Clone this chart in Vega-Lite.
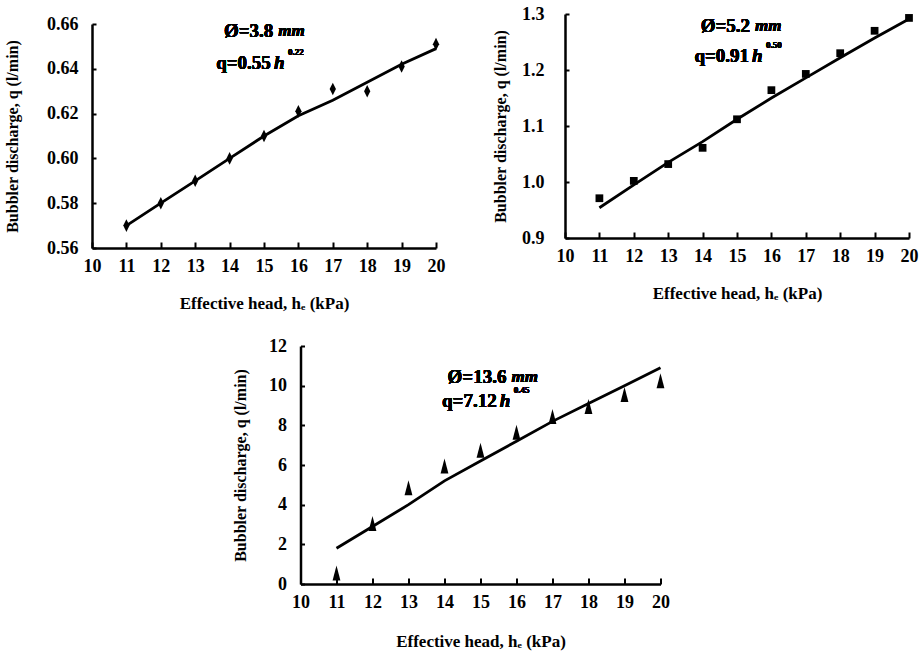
{
  "$schema": "https://vega.github.io/schema/vega-lite/v6.json",
  "background": "white",
  "padding": {"left": 4, "top": 5, "right": 5, "bottom": 2},
  "config": {
    "font": "Liberation Serif",
    "view": {"stroke": null},
    "axis": {
      "grid": false,
      "ticks": true,
      "tickColor": "black",
      "tickWidth": 2,
      "domainColor": "black",
      "domainWidth": 2.5,
      "labelFont": "Liberation Serif",
      "labelFontWeight": "bold",
      "labelFontSize": 18,
      "labelColor": "black",
      "labelOverlap": false,
      "labelFlush": false,
      "titleFont": "Liberation Serif",
      "titleFontWeight": "bold",
      "titleFontSize": 16,
      "titleColor": "black"
    },
    "axisX": {"tickSize": -6, "labelPadding": 15, "titlePadding": 20, "titleFontSize": 17},
    "axisY": {"tickSize": -4, "labelPadding": 18, "titlePadding": 26}
  },
  "datasets": {
    "d38": [
      {"h": 11, "q": 0.570, "fit": 0.570},
      {"h": 12, "q": 0.580, "fit": 0.580},
      {"h": 13, "q": 0.590, "fit": 0.590},
      {"h": 14, "q": 0.600, "fit": 0.600},
      {"h": 15, "q": 0.610, "fit": 0.610},
      {"h": 16, "q": 0.621, "fit": 0.619},
      {"h": 17, "q": 0.631, "fit": 0.626},
      {"h": 18, "q": 0.630, "fit": 0.634},
      {"h": 19, "q": 0.641, "fit": 0.642},
      {"h": 20, "q": 0.651, "fit": 0.649}
    ],
    "d52": [
      {"h": 11, "q": 0.971, "fit": 0.954},
      {"h": 12, "q": 1.002, "fit": 0.995},
      {"h": 13, "q": 1.032, "fit": 1.035},
      {"h": 14, "q": 1.061, "fit": 1.072},
      {"h": 15, "q": 1.112, "fit": 1.112},
      {"h": 16, "q": 1.164, "fit": 1.150},
      {"h": 17, "q": 1.193, "fit": 1.186},
      {"h": 18, "q": 1.230, "fit": 1.222},
      {"h": 19, "q": 1.270, "fit": 1.257},
      {"h": 20, "q": 1.293, "fit": 1.291}
    ],
    "d136": [
      {"h": 11, "q": 0.5, "fit": 1.8},
      {"h": 12, "q": 3.0, "fit": 2.9},
      {"h": 13, "q": 4.8, "fit": 4.0},
      {"h": 14, "q": 5.9, "fit": 5.2},
      {"h": 15, "q": 6.7, "fit": 6.2},
      {"h": 16, "q": 7.6, "fit": 7.2},
      {"h": 17, "q": 8.4, "fit": 8.2},
      {"h": 18, "q": 8.9, "fit": 9.1},
      {"h": 19, "q": 9.5, "fit": 10.0},
      {"h": 20, "q": 10.2, "fit": 10.9}
    ]
  },
  "center": true,
  "spacing": 26,
  "vconcat": [
    {
      "spacing": 47,
      "hconcat": [
        {
          "width": 344,
          "height": 234,
          "data": {"name": "d38"},
          "encoding": {
            "x": {"field": "h", "type": "quantitative", "scale": {"domain": [10, 20], "nice": false}, "axis": {"values": [10, 11, 12, 13, 14, 15, 16, 17, 18, 19, 20], "title": "Effective head, hₑ (kPa)"}}
          },
          "layer": [
            {"mark": {"type": "line", "color": "black", "strokeWidth": 2.8},
             "encoding": {"y": {"field": "fit", "type": "quantitative", "scale": {"domain": [0.56, 0.66], "nice": false, "zero": false, "range": [234, 10]}, "axis": {"values": [0.56, 0.58, 0.6, 0.62, 0.64, 0.66], "format": ".2f", "title": "Bubbler discharge, q (l/min)"}}}},
            {"mark": {"type": "point", "shape": "M0,-1.2L0.6,0L0,1.2L-0.6,0Z", "filled": true, "color": "black", "opacity": 1, "size": 110},
             "encoding": {"y": {"field": "q", "type": "quantitative"}}},
            {"mark": {"type": "text", "text": "Ø=3.8", "fontWeight": "bold", "fontSize": 19, "align": "right", "baseline": "middle", "color": "black"},
             "encoding": {"x": {"datum": 15.27}, "y": {"datum": 0.6567}}},
            {"mark": {"type": "text", "text": "mm", "fontWeight": "bold", "fontStyle": "italic", "fontSize": 17, "align": "left", "baseline": "middle", "dx": 5, "color": "black"},
             "encoding": {"x": {"datum": 15.27}, "y": {"datum": 0.6567}}},
            {"mark": {"type": "text", "text": "q=0.55", "fontWeight": "bold", "fontSize": 19, "align": "right", "baseline": "middle", "color": "black"},
             "encoding": {"x": {"datum": 15.2}, "y": {"datum": 0.6426}}},
            {"mark": {"type": "text", "text": "h", "fontWeight": "bold", "fontStyle": "italic", "fontSize": 19, "align": "left", "baseline": "middle", "dx": 3, "color": "black"},
             "encoding": {"x": {"datum": 15.2}, "y": {"datum": 0.6426}}},
            {"mark": {"type": "text", "text": "0.22", "fontWeight": "bold", "fontSize": 9, "align": "left", "baseline": "middle", "dx": 17, "dy": -11, "color": "black"},
             "encoding": {"x": {"datum": 15.2}, "y": {"datum": 0.6426}}}
          ]
        },
        {
          "width": 344,
          "height": 224,
          "data": {"name": "d52"},
          "encoding": {
            "x": {"field": "h", "type": "quantitative", "scale": {"domain": [10, 20], "nice": false}, "axis": {"values": [10, 11, 12, 13, 14, 15, 16, 17, 18, 19, 20], "title": "Effective head, hₑ (kPa)"}}
          },
          "layer": [
            {"mark": {"type": "line", "color": "black", "strokeWidth": 2.8},
             "encoding": {"y": {"field": "fit", "type": "quantitative", "scale": {"domain": [0.9, 1.3], "nice": false, "zero": false}, "axis": {"values": [0.9, 1.0, 1.1, 1.2, 1.3], "format": ".1f", "title": "Bubbler discharge, q (l/min)", "labelPadding": 25, "titlePadding": 13}}}},
            {"mark": {"type": "point", "shape": "square", "filled": true, "color": "black", "opacity": 1, "size": 60},
             "encoding": {"y": {"field": "q", "type": "quantitative"}}},
            {"mark": {"type": "text", "text": "Ø=5.2", "fontWeight": "bold", "fontSize": 19, "align": "right", "baseline": "middle", "color": "black"},
             "encoding": {"x": {"datum": 15.38}, "y": {"datum": 1.279}}},
            {"mark": {"type": "text", "text": "mm", "fontWeight": "bold", "fontStyle": "italic", "fontSize": 17, "align": "left", "baseline": "middle", "dx": 5, "color": "black"},
             "encoding": {"x": {"datum": 15.38}, "y": {"datum": 1.279}}},
            {"mark": {"type": "text", "text": "q=0.91", "fontWeight": "bold", "fontSize": 19, "align": "right", "baseline": "middle", "color": "black"},
             "encoding": {"x": {"datum": 15.35}, "y": {"datum": 1.225}}},
            {"mark": {"type": "text", "text": "h", "fontWeight": "bold", "fontStyle": "italic", "fontSize": 19, "align": "left", "baseline": "middle", "dx": 3, "color": "black"},
             "encoding": {"x": {"datum": 15.35}, "y": {"datum": 1.225}}},
            {"mark": {"type": "text", "text": "0.50", "fontWeight": "bold", "fontSize": 9, "align": "left", "baseline": "middle", "dx": 17, "dy": -11, "color": "black"},
             "encoding": {"x": {"datum": 15.35}, "y": {"datum": 1.225}}}
          ]
        }
      ]
    },
    {
      "width": 409,
      "height": 238,
      "data": {"name": "d136"},
      "encoding": {
        "x": {"field": "h", "type": "quantitative", "scale": {"domain": [10, 20], "nice": false, "range": [0, 360]}, "axis": {"values": [10, 11, 12, 13, 14, 15, 16, 17, 18, 19, 20], "title": "Effective head, hₑ (kPa)", "titlePadding": 22}}
      },
      "layer": [
        {"mark": {"type": "line", "color": "black", "strokeWidth": 2.8},
         "encoding": {"y": {"field": "fit", "type": "quantitative", "scale": {"domain": [0, 12], "nice": false}, "axis": {"values": [0, 2, 4, 6, 8, 10, 12], "tickCount": 7, "title": "Bubbler discharge, q (l/min)", "titlePadding": 20}}}},
        {"mark": {"type": "point", "shape": "M0,-1.3L0.6,1L-0.6,1Z", "filled": true, "color": "black", "opacity": 1, "size": 170},
         "encoding": {"y": {"field": "q", "type": "quantitative"}}},
        {"mark": {"type": "text", "text": "Ø=13.6", "fontWeight": "bold", "fontSize": 19, "align": "right", "baseline": "middle", "color": "black"},
         "encoding": {"x": {"datum": 15.72}, "y": {"datum": 10.43}}},
        {"mark": {"type": "text", "text": "mm", "fontWeight": "bold", "fontStyle": "italic", "fontSize": 17, "align": "left", "baseline": "middle", "dx": 5, "color": "black"},
         "encoding": {"x": {"datum": 15.72}, "y": {"datum": 10.43}}},
        {"mark": {"type": "text", "text": "q=7.12", "fontWeight": "bold", "fontSize": 19, "align": "right", "baseline": "middle", "color": "black"},
         "encoding": {"x": {"datum": 15.45}, "y": {"datum": 9.22}}},
        {"mark": {"type": "text", "text": "h", "fontWeight": "bold", "fontStyle": "italic", "fontSize": 19, "align": "left", "baseline": "middle", "dx": 3, "color": "black"},
         "encoding": {"x": {"datum": 15.45}, "y": {"datum": 9.22}}},
        {"mark": {"type": "text", "text": "0.45", "fontWeight": "bold", "fontSize": 9, "align": "left", "baseline": "middle", "dx": 17, "dy": -11, "color": "black"},
         "encoding": {"x": {"datum": 15.45}, "y": {"datum": 9.22}}}
      ]
    }
  ]
}
